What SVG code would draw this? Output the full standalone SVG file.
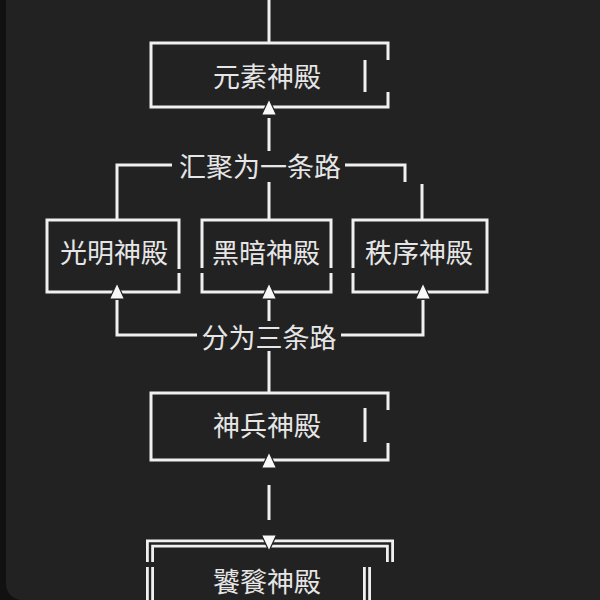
<svg xmlns="http://www.w3.org/2000/svg" width="600" height="600" viewBox="0 0 600 600">
  <style>
    .ln{fill:none;stroke:#f0f0f0;stroke-width:3;stroke-linecap:butt}
    .dbl{fill:none;stroke:#f0f0f0;stroke-width:8}
    .dbl2{fill:none;stroke:#222;stroke-width:2.4}
    .t{font-family:"Noto Sans CJK SC","Noto Sans",sans-serif;font-size:27px;fill:#e6e6e6;text-anchor:middle;dominant-baseline:central}
    .tri{fill:#f8f8f8;stroke:#222;stroke-width:1.2}
  </style>
  <rect x="0" y="0" width="600" height="600" fill="#111"/>
  <rect x="6" y="-30" width="620" height="630" rx="16" fill="#222"/>

  <g id="connectors">
    <path class="ln" d="M269 0 V43"/>
    <path class="ln" d="M269 118 V151"/>
    <path class="ln" d="M172 165 H117 V220"/>
    <path class="ln" d="M345 165 H405 V182"/>
    <path class="ln" d="M269 182 V220"/>
    <path class="ln" d="M422 184 V220"/>
    <path class="ln" d="M117 300 V335 H197"/>
    <path class="ln" d="M423 300 V335 H341"/>
    <path class="ln" d="M269 300 V321"/>
    <path class="ln" d="M269 351 V393"/>
    <path class="ln" d="M269 485 V520"/>
  </g>

  <g id="label-merge">
    <text class="t" x="260" y="165">汇聚为一条路</text>
  </g>
  <g id="label-split">
    <text class="t" x="269" y="336">分为三条路</text>
  </g>

  <g id="node-yuansu">
    <path class="ln" d="M388 60 V43 H151 V107 H388 V92"/>
    <path class="ln" d="M365 60 V92"/>
    <text class="t" x="267" y="75">元素神殿</text>
    <polygon class="tri" points="269,99 261.5,115 276.5,115"/>
  </g>

  <g id="node-guangming">
    <path class="ln" d="M179 269 V220 H47 V292 H179 V273"/>
    <text class="t" x="114" y="251">光明神殿</text>
    <polygon class="tri" points="117,283 109.5,299 124.5,299"/>
  </g>

  <g id="node-heian">
    <path class="ln" d="M202 268 V220 H331 V268"/>
    <path class="ln" d="M202 273 V292 H331 V273"/>
    <text class="t" x="266" y="251">黑暗神殿</text>
    <polygon class="tri" points="269,283 261.5,299 276.5,299"/>
  </g>

  <g id="node-zhixu">
    <path class="ln" d="M353 268 V220 H487 V292 H353 V273"/>
    <text class="t" x="419" y="251">秩序神殿</text>
    <polygon class="tri" points="423,283 415.5,299 430.5,299"/>
  </g>

  <g id="node-shenbing">
    <path class="ln" d="M388 410 V393 H151 V460 H388 V443"/>
    <path class="ln" d="M365 408 V442"/>
    <text class="t" x="267" y="424">神兵神殿</text>
    <polygon class="tri" points="269,452 261.5,468 276.5,468"/>
  </g>

  <g id="node-taotie">
    <path class="dbl" d="M150 562 V543.5 H390 V562"/>
    <path class="dbl2" d="M150 562 V543.5 H390 V562"/>
    <path class="dbl" d="M150 567 V610"/>
    <path class="dbl2" d="M150 567 V610"/>
    <path class="dbl" d="M367 567 V610"/>
    <path class="dbl2" d="M367 567 V610"/>
    <polygon class="tri" points="261.5,535 276.5,535 269,551"/>
    <text class="t" x="267" y="580">饕餮神殿</text>
  </g>
</svg>
